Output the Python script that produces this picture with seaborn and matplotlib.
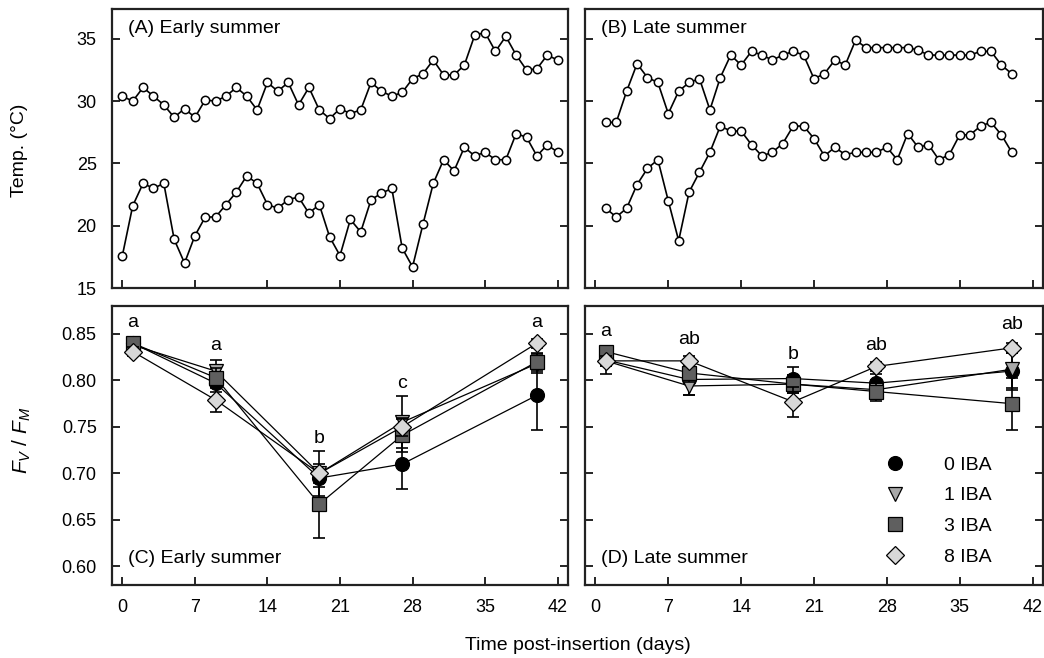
import numpy as np
import pandas as pd
import matplotlib
matplotlib.use("Agg")
import matplotlib.pyplot as plt
import seaborn as sns
from matplotlib.lines import Line2D

sns.set_style("ticks")
plt.rcParams['font.family'] = ['Liberation Sans', 'DejaVu Sans']
plt.rcParams['mathtext.fontset'] = 'custom'
plt.rcParams['mathtext.it'] = 'Liberation Sans:italic'
plt.rcParams['mathtext.rm'] = 'Liberation Sans'
plt.rcParams['text.color'] = 'black'
plt.rcParams['axes.labelcolor'] = 'black'

# ---------------- data ----------------
days_early = list(range(0, 43))
early_max = [30.4, 30.0, 31.1, 30.4, 29.7, 28.7, 29.4, 28.7, 30.1, 30.0, 30.4, 31.1, 30.4,
             29.3, 31.5, 30.8, 31.5, 29.7, 31.1, 29.3, 28.6, 29.4, 29.0, 29.3, 31.5, 30.8,
             30.4, 30.7, 31.8, 32.2, 33.3, 32.1, 32.1, 32.9, 35.3, 35.5, 34.0, 35.2, 33.7,
             32.5, 32.6, 33.7, 33.3]
early_min = [17.6, 21.6, 23.4, 23.0, 23.4, 18.9, 17.0, 19.2, 20.7, 20.7, 21.7, 22.7, 24.0,
             23.4, 21.7, 21.4, 22.1, 22.3, 21.0, 21.7, 19.1, 17.6, 20.5, 19.5, 22.1, 22.6,
             23.0, 18.2, 16.7, 20.1, 23.4, 25.3, 24.4, 26.3, 25.6, 25.9, 25.3, 25.3, 27.4,
             27.1, 25.6, 26.5, 25.9]

days_late = list(range(1, 41))
late_max = [28.3, 28.3, 30.8, 33.0, 31.9, 31.5, 29.0, 30.8, 31.5, 31.8, 29.3, 31.9, 33.7,
            32.9, 34.0, 33.7, 33.3, 33.7, 34.0, 33.7, 31.8, 32.2, 33.3, 32.9, 34.9, 34.3,
            34.3, 34.3, 34.3, 34.3, 34.1, 33.7, 33.7, 33.7, 33.7, 33.7, 34.0, 34.0, 32.9,
            32.2]
late_min = [21.4, 20.7, 21.4, 23.3, 24.6, 25.3, 22.0, 18.8, 22.7, 24.3, 25.9, 28.0, 27.6,
            27.6, 26.5, 25.6, 25.9, 26.6, 28.0, 28.0, 27.0, 25.6, 26.3, 25.7, 25.9, 25.9,
            25.9, 26.3, 25.3, 27.4, 26.3, 26.5, 25.3, 25.7, 27.3, 27.3, 28.0, 28.3, 27.3,
            25.9]

fv_days = [1, 9, 19, 27, 40]
treatments = ["0 IBA", "1 IBA", "3 IBA", "8 IBA"]

early_fv = {
    "0 IBA": [0.840, 0.797, 0.695, 0.710, 0.784],
    "1 IBA": [0.838, 0.810, 0.700, 0.755, 0.818],
    "3 IBA": [0.840, 0.803, 0.667, 0.741, 0.820],
    "8 IBA": [0.831, 0.779, 0.700, 0.750, 0.840],
}
early_se = {
    "0 IBA": [0.005, 0.010, 0.010, 0.027, 0.037],
    "1 IBA": [0.005, 0.012, 0.024, 0.028, 0.010],
    "3 IBA": [0.005, 0.010, 0.036, 0.018, 0.010],
    "8 IBA": [0.005, 0.013, 0.010, 0.010, 0.005],
}
late_fv = {
    "0 IBA": [0.822, 0.801, 0.802, 0.797, 0.810],
    "1 IBA": [0.821, 0.794, 0.796, 0.790, 0.812],
    "3 IBA": [0.831, 0.808, 0.796, 0.788, 0.775],
    "8 IBA": [0.821, 0.821, 0.777, 0.815, 0.835],
}
late_se = {
    "0 IBA": [0.015, 0.017, 0.012, 0.010, 0.020],
    "1 IBA": [0.005, 0.010, 0.010, 0.010, 0.020],
    "3 IBA": [0.005, 0.010, 0.010, 0.010, 0.028],
    "8 IBA": [0.005, 0.005, 0.016, 0.005, 0.005],
}

early_letters = ["a", "a", "b", "c", "a"]
early_letter_y = [0.862, 0.838, 0.738, 0.797, 0.862]
late_letters = ["a", "ab", "b", "ab", "ab"]
late_letter_y = [0.853, 0.844, 0.828, 0.837, 0.860]

xticks = [0, 7, 14, 21, 28, 35, 42]

# ---------------- styles ----------------
markers = {"0 IBA": "o", "1 IBA": "v", "3 IBA": "s", "8 IBA": "D"}
faces = {"0 IBA": "black", "1 IBA": "#a8a8a8", "3 IBA": "#5f5f5f", "8 IBA": "#d8d8d8"}
msizes = {"0 IBA": 10, "1 IBA": 10, "3 IBA": 10, "8 IBA": 9}
FS = 13

W, H = 1044, 658
fig = plt.figure(figsize=(W / 100, H / 100), dpi=100)

def fa(l, t, r, b):
    return [l / W, 1 - b / H, (r - l) / W, (b - t) / H]

axA = fig.add_axes(fa(112, 9, 568, 288))
axB = fig.add_axes(fa(585, 9, 1043, 288))
axC = fig.add_axes(fa(112, 306, 568, 585))
axD = fig.add_axes(fa(585, 306, 1043, 585))

def style(ax, ylim, yticks, show_x, show_y, yfmt):
    ax.set_xlim(-1, 43)
    ax.set_ylim(*ylim)
    ax.set_xticks(xticks)
    ax.set_yticks(yticks)
    ax.tick_params(direction="in", length=6, width=1.2, left=True, right=True,
                   bottom=True, top=False, labelsize=FS, colors="black")
    ax.tick_params(axis="y", pad=11)
    ax.tick_params(axis="x", pad=10)
    if show_x:
        ax.set_xticklabels([str(v) for v in xticks])
    else:
        ax.set_xticklabels([])
    if show_y:
        ax.set_yticklabels([yfmt.format(v) for v in yticks])
    else:
        ax.set_yticklabels([])
    for s in ax.spines.values():
        s.set_visible(True)
        s.set_linewidth(1.6)
        s.set_color("#222222")
    ax.set_xlabel("")
    ax.set_ylabel("")

# Temperature panels
for ax, d, mx, mn, lab in [(axA, days_early, early_max, early_min, "(A) Early summer"),
                           (axB, days_late, late_max, late_min, "(B) Late summer")]:
    for series in (mx, mn):
        sns.lineplot(x=d, y=series, ax=ax, color="black", linewidth=1.2, marker="o",
                     markersize=6, markerfacecolor="white", markeredgecolor="black",
                     markeredgewidth=1.1)
    ax.text(0.035, 0.93, lab, transform=ax.transAxes, fontsize=FS + 1, va="center", ha="left")

style(axA, (15, 37.4), [15, 20, 25, 30, 35], False, True, "{:g}")
style(axB, (15, 37.4), [15, 20, 25, 30, 35], False, False, "{:g}")

# Fv/Fm panels
for ax, vals, ses, lets, lety, lab in [
        (axC, early_fv, early_se, early_letters, early_letter_y, "(C) Early summer"),
        (axD, late_fv, late_se, late_letters, late_letter_y, "(D) Late summer")]:
    for i, t in enumerate(treatments):
        ax.errorbar(fv_days, vals[t], yerr=ses[t], fmt="none", ecolor="black",
                    elinewidth=1.2, capsize=4, capthick=1.2, zorder=2 + i)
        sns.lineplot(x=fv_days, y=vals[t], ax=ax, color="black", linewidth=0.9,
                     marker=markers[t], markersize=msizes[t], markerfacecolor=faces[t],
                     markeredgecolor="black", markeredgewidth=0.9, zorder=3 + i)
    for xd, s, yv in zip(fv_days, lets, lety):
        ax.text(xd, yv, s, fontsize=FS + 1, ha="center", va="center")
    ax.text(0.035, 0.095, lab, transform=ax.transAxes, fontsize=FS + 1, va="center", ha="left")

yt = [0.60, 0.65, 0.70, 0.75, 0.80, 0.85]
style(axC, (0.58, 0.88), yt, True, True, "{:.2f}")
style(axD, (0.58, 0.88), yt, True, False, "{:.2f}")

handles = [Line2D([], [], linestyle="none", marker=markers[t], markersize=msizes[t],
                  markerfacecolor=faces[t], markeredgecolor="black", markeredgewidth=0.9)
           for t in treatments]
axD.legend(handles, treatments, loc="lower right", bbox_to_anchor=(0.925, 0.005),
           frameon=False, fontsize=FS + 1, handletextpad=1.9, labelspacing=0.68,
           handlelength=1.2)

fig.text(20 / W, 1 - 150 / H, "Temp. (°C)", rotation=90, fontsize=FS + 1,
         ha="center", va="center")
fig.text(22 / W, 1 - 440 / H, r"$F_V$ / $F_M$", rotation=90, fontsize=FS + 2,
         ha="center", va="center")
fig.text(578 / W, 1 - 645 / H, "Time post-insertion (days)", fontsize=FS + 1,
         ha="center", va="center")

fig.savefig("out.png", dpi=100)
